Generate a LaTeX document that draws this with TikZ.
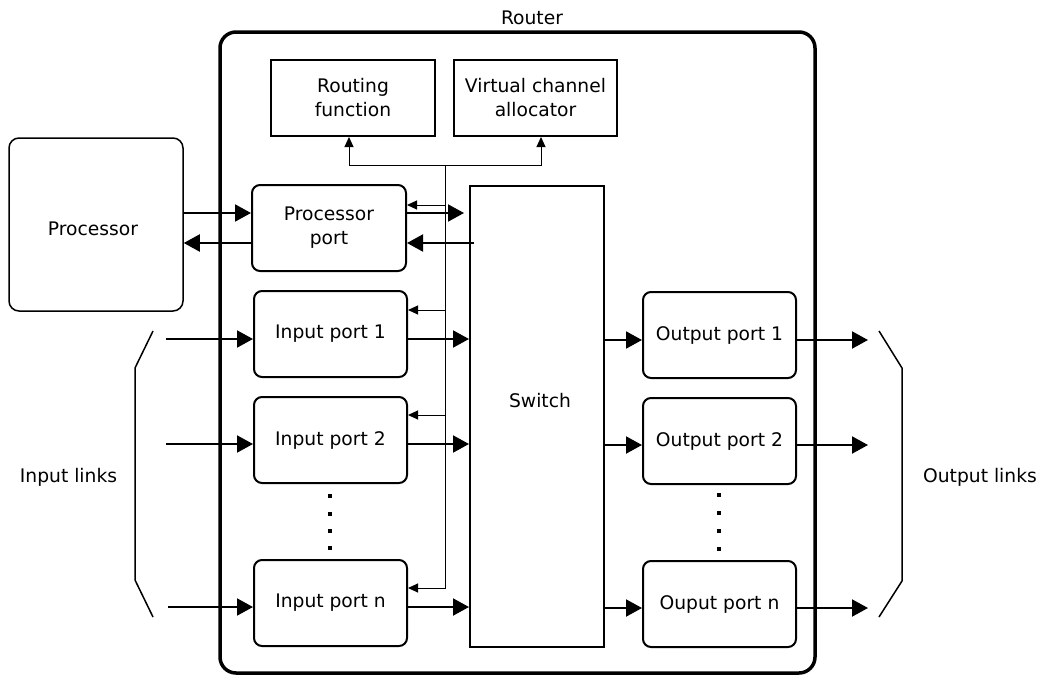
\documentclass[tikz,border=0pt]{standalone}
\usepackage{fontspec}
\setmainfont{DejaVu Sans}
\usetikzlibrary{arrows.meta}
\begin{document}
\begin{tikzpicture}[x=1pt,y=-1pt,
  font=\fontsize{18.7}{24}\selectfont,
  port/.style={draw, line width=2pt, rounded corners=8pt, minimum width=153pt, minimum height=86pt, inner sep=0pt, align=center},
  plainbox/.style={draw, line width=2pt, minimum width=164pt, minimum height=76pt, inner sep=0pt, align=center},
  big/.style={line width=2pt, -{Triangle[length=16pt,width=17pt]}},
  small/.style={line width=1pt, -{Triangle[length=10pt,width=9pt]}},
  thinline/.style={line width=1pt},
  bracket/.style={line width=1.5pt},
  dot/.style={fill, minimum size=4pt, inner sep=0pt},
  plain/.style={inner sep=0pt}
]
\useasboundingbox (0,0) rectangle (1042,675);

% router frame
\node[draw, line width=3.5pt, rounded corners=16pt, minimum width=595pt, minimum height=641pt, inner sep=0pt] (router) at (517.5,352.5) {};
\node[plain] (routerlabel) at (532,18) {Router};

% top boxes
\node[plainbox] (rf) at (353,98) {Routing\\function};
\node[plainbox, minimum width=163pt] (vca) at (535.5,98) {Virtual channel\\allocator};

% processor
\node[draw, line width=1.5pt, rounded corners=10pt, minimum width=174pt, minimum height=173pt, inner sep=0pt,
  label={[plain, yshift=-4pt, xshift=-3pt]center:Processor}] (proc) at (96,224.5) {};

% ports
\node[port, minimum width=154pt] (pp) at (329,228) {Processor\\port};
\node[port] (ip1) at (330.5,334) {Input port 1};
\node[port] (ip2) at (330.5,440) {Input port 2};
\node[port] (ipn) at (330.5,603) {Input port n};
\node[port] (op1) at (719.5,335) {Output port 1};
\node[port] (op2) at (719.5,441) {Output port 2};
\node[port] (opn) at (719.5,604) {Ouput port n};

% switch
\node[draw, line width=2pt, minimum width=134pt, minimum height=461pt, inner sep=0pt,
  label={[plain, yshift=15.5pt, xshift=3pt]center:Switch}] (sw) at (537,416.5) {};

% link labels
\node[plain] (inlinks) at (68.5,477) {Input links};
\node[plain] (outlinks) at (980,477) {Output links};

% brackets
\draw[bracket] (153,331) -- (135,368) -- (135,580) -- (153,617);
\draw[bracket] (879,331) -- (902,368) -- (902,581) -- (879,617);

% control bus
\coordinate (bustop) at (445,165);
\coordinate (busbot) at (445,588);
\draw[small] (bustop) -| ([xshift=-4pt]rf.south);
\draw[small] (bustop) -| ([xshift=5.5pt]vca.south);
\draw[small] (bustop) -- (busbot) -- (ipn.east |- busbot);
\draw[small] (bustop |- 0,205) -- (pp.east |- 0,205);
\draw[small] (bustop |- 0,310) -- (ip1.east |- 0,310);
\draw[small] (bustop |- 0,415) -- (ip2.east |- 0,415);

% processor links
\draw[big] (proc.east |- 0,213) -- (pp.west |- 0,213);
\draw[big] (pp.west |- 0,243) -- (proc.east |- 0,243);
\draw[big, shorten >=5pt] (pp.east |- 0,213) -- (sw.west |- 0,213);
\draw[big] ([xshift=5pt]sw.west |- 0,243) -- (pp.east |- 0,243);

% input links
\coordinate (in1) at (166,339);
\coordinate (in2) at (166,444);
\coordinate (inn) at (168,607);
\draw[big] (in1) -- (ip1.west |- in1);
\draw[big] (in2) -- (ip2.west |- in2);
\draw[big] (inn) -- (ipn.west |- inn);

% input ports to switch
\draw[big] (ip1.east |- 0,339) -- (sw.west |- 0,339);
\draw[big] (ip2.east |- 0,444) -- (sw.west |- 0,444);
\draw[big] (ipn.east |- 0,607) -- (sw.west |- 0,607);

% switch to output ports
\draw[big] (sw.east |- 0,340) -- (op1.west |- 0,340);
\draw[big] (sw.east |- 0,445) -- (op2.west |- 0,445);
\draw[big] (sw.east |- 0,608) -- (opn.west |- 0,608);

% output links
\coordinate (out1) at (868,340);
\coordinate (out2) at (868,445);
\coordinate (outn) at (868,608);
\draw[big] (op1.east |- out1) -- (out1);
\draw[big] (op2.east |- out2) -- (out2);
\draw[big] (opn.east |- outn) -- (outn);

% ellipsis dots
\node[dot] (idot1) at (330,496) {};
\node[dot] (idot2) at (330,514) {};
\node[dot] (idot3) at (330,531) {};
\node[dot] (idot4) at (330,548) {};
\node[dot] (odot1) at (719,495) {};
\node[dot] (odot2) at (719,513) {};
\node[dot] (odot3) at (719,531) {};
\node[dot] (odot4) at (719,549) {};
\end{tikzpicture}
\end{document}
